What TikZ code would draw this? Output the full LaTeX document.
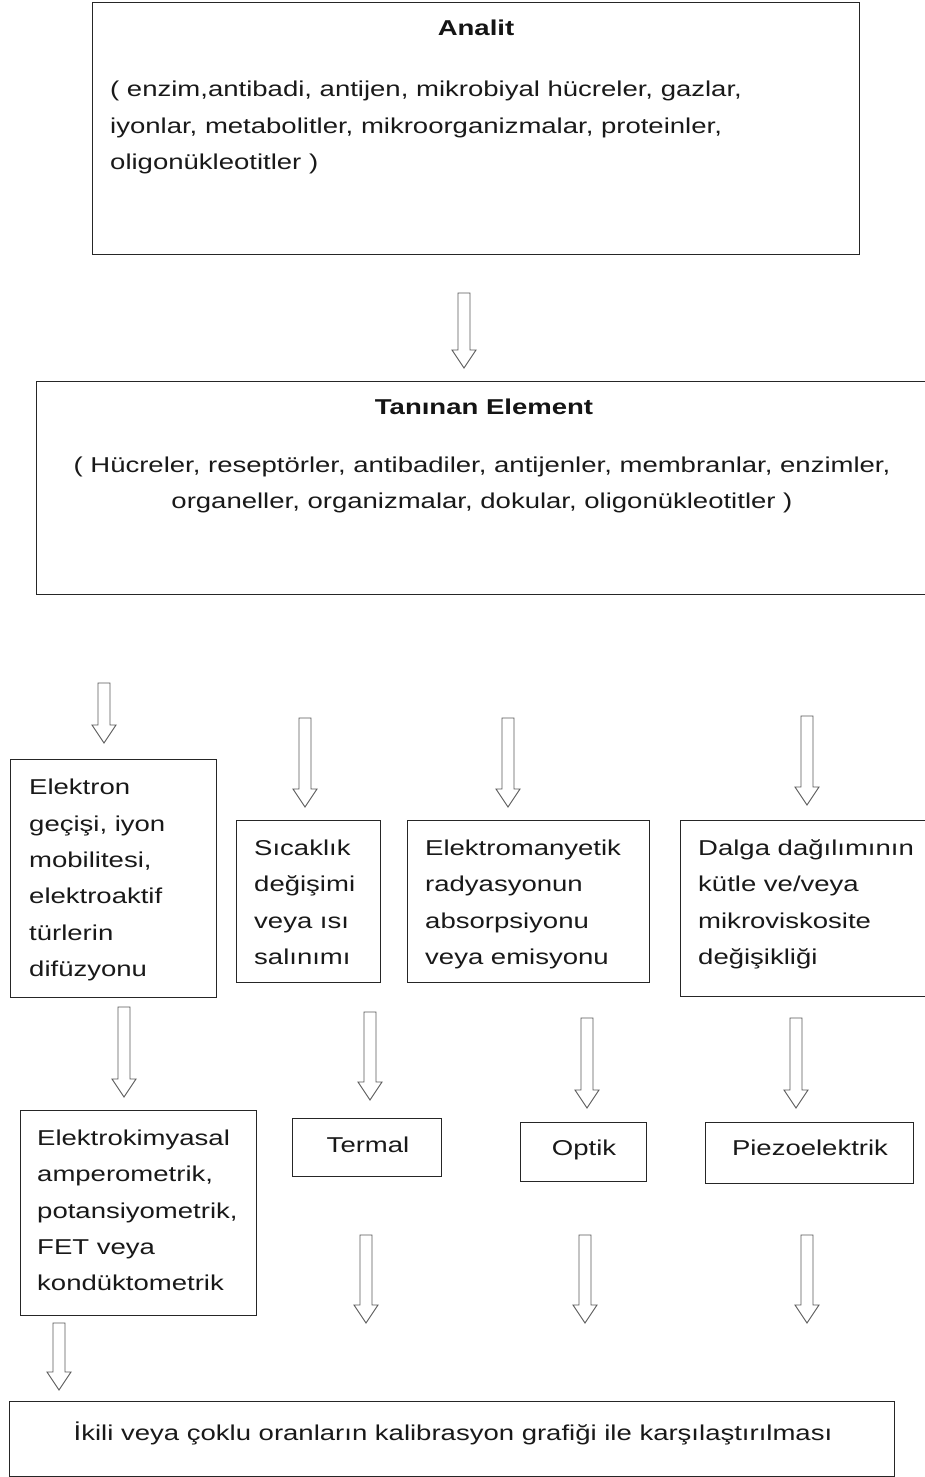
\documentclass[tikz,border=0pt]{standalone}
\usepackage{fontspec}
\setmainfont{Liberation Sans}[FakeStretch=1.28]
\tikzset{
  boxframe/.style={draw=black!85, line width=1.4pt, inner sep=0pt, anchor=north west},
  txt/.style={inner sep=0pt, text=black!90, font=\fontsize{21.5}{36.4}\selectfont, align=left},
  ctxt/.style={inner sep=0pt, text=black!90, font=\fontsize{21.5}{36.4}\selectfont, align=center},
  ttl/.style={inner sep=0pt, text=black!92, font=\bfseries\fontsize{21.5}{26}\selectfont},
  arrline/.style={draw=black!65, line width=0.9pt, fill=white, line join=miter},
  pics/darrow/.style={code={
    \draw[arrline] (-6,0) -- (6,0) -- (6,#1-18) -- (12,#1-18) -- (0,#1) -- (-12,#1-18) -- (-6,#1-18) -- cycle;
    \coordinate (-tip) at (0,#1);}}
}
\newcommand\boxat[5]{\node[boxframe, minimum width=#4-#2, minimum height=#5-#3] (#1) at (#2,#3) {};}
\begin{document}
\begin{tikzpicture}[x=1pt,y=-1pt]
\useasboundingbox (0,0) rectangle (925,1477);
\fill[white] (0,0) rectangle (925,1477);

% boxes
\boxat{analit}{92}{2}{859}{254}
\boxat{tanin}{36}{381}{940}{594}
\boxat{bA}{10}{759}{216}{997}
\boxat{bB}{236}{820}{380}{982}
\boxat{bC}{407}{820}{649}{982}
\boxat{bD}{680}{820}{940}{996}
\boxat{bE}{20}{1110}{256}{1315}
\boxat{bT}{292}{1118}{441}{1176}
\boxat{bO}{520}{1122}{646}{1181}
\boxat{bP}{705}{1122}{913}{1183}
\boxat{final}{9}{1401}{894}{1476}

% texts
\node[ttl, anchor=base] (tAnalit) at (476,35.5) {Analit};
\node[txt, anchor=north west] (tAnalitList) at (110,81) {( enzim,antibadi, antijen, mikrobiyal hücreler, gazlar,\\iyonlar, metabolitler, mikroorganizmalar, proteinler,\\oligonükleotitler )};
\node[ttl, anchor=base] (tTanin) at (484,414.5) {Tanınan Element};
\node[ctxt, anchor=north] (tTaninList) at (482,456.5) {( Hücreler, reseptörler, antibadiler, antijenler, membranlar, enzimler,\\organeller, organizmalar, dokular, oligonükleotitler )};
\node[txt, anchor=north west] (tA) at (29,779) {Elektron\\geçişi, iyon\\mobilitesi,\\elektroaktif\\türlerin\\difüzyonu};
\node[txt, anchor=north west] (tB) at (254,839.5) {Sıcaklık\\değişimi\\veya ısı\\salınımı};
\node[txt, anchor=north west] (tC) at (425,839.5) {Elektromanyetik\\radyasyonun\\absorpsiyonu\\veya emisyonu};
\node[txt, anchor=north west] (tD) at (698,839.5) {Dalga dağılımının\\kütle ve/veya\\mikroviskosite\\değişikliği};
\node[txt, anchor=north west] (tE) at (37,1129.5) {Elektrokimyasal\\amperometrik,\\potansiyometrik,\\FET veya\\kondüktometrik};
\node[ctxt, anchor=base] (tT) at (368,1152.5) {Termal};
\node[ctxt, anchor=base] (tO) at (584,1155.5) {Optik};
\node[ctxt, anchor=base] (tP) at (810,1155.5) {Piezoelektrik};
\node[ctxt, anchor=base] (tF) at (453,1440.5) {İkili veya çoklu oranların kalibrasyon grafiği ile karşılaştırılması};

% arrows
\pic (a1) at (464,293) {darrow=75};
\pic (a2) at (104,683) {darrow=60};
\pic (a3) at (305,718) {darrow=89};
\pic (a4) at (508,718) {darrow=89};
\pic (a5) at (807,716) {darrow=89};
\pic (a6) at (124,1007) {darrow=90};
\pic (a7) at (370,1012) {darrow=88};
\pic (a8) at (587,1018) {darrow=90};
\pic (a9) at (796,1018) {darrow=90};
\pic (a10) at (366,1235) {darrow=88};
\pic (a11) at (585,1235) {darrow=88};
\pic (a12) at (807,1235) {darrow=88};
\pic (a13) at (59,1323) {darrow=67};
\end{tikzpicture}
\end{document}
